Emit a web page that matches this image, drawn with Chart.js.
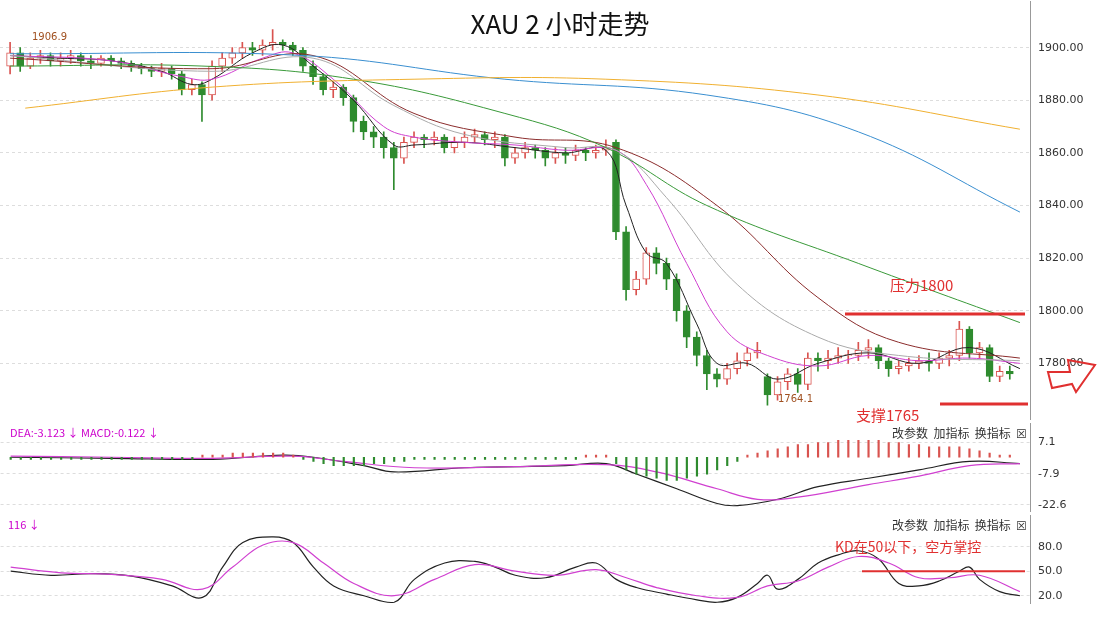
<!DOCTYPE html><html><head><meta charset="utf-8">
<script src="https://cdn.jsdelivr.net/npm/chart.js@4/dist/chart.umd.min.js"></script>
<style>body{margin:0;background:#fff;width:1102px;height:617px;overflow:hidden;position:relative;font-family:"Noto Sans CJK SC",sans-serif}
.p{position:absolute;left:0;width:1102px}
#t{position:absolute;top:4px;left:0;width:1120px;text-align:center;font:26px "Noto Sans CJK SC","DejaVu Sans Mono";color:#111}
.tb{position:absolute;font-size:12px;color:#333}
</style></head><body>
<div class="p" style="top:-13px;height:447px"><canvas id="c1"></canvas></div>
<div class="p" style="top:408.5px;height:117.5px"><canvas id="c2"></canvas></div>
<div class="p" style="top:500.5px;height:117.5px"><canvas id="c3"></canvas></div>
<div id="t">XAU 2 小时走势</div>
<div class="tb" style="left:856px;top:404px;color:#e03030;font-size:15px">支撑1765</div>
<div class="tb" style="left:10px;top:424px;color:#c0c;font-size:11px">DEA:-3.123 ↓ MACD:-0.122 ↓</div>
<div class="tb" style="left:892px;top:424px">改参数 &nbsp;加指标 &nbsp;换指标 &nbsp;☒</div>
<div class="tb" style="left:8px;top:516px;color:#c0c;font-size:11px">116 ↓</div>
<div class="tb" style="left:892px;top:516px">改参数 &nbsp;加指标 &nbsp;换指标 &nbsp;☒</div>
<script>
const closes=[1898,1893,1896,1897,1895,1896,1897,1895,1894,1896,1895,1894,1893,1892,1891,1892,1890,1884,1886,1882,1893,1896,1898,1900,1899,1901,1902,1901,1899,1893,1889,1884,1885,1881,1872,1868,1866,1862,1858,1864,1866,1865,1866,1862,1864,1866,1867,1865,1866,1858,1860,1862,1861,1858,1860,1859,1861,1860,1861,1862,1830,1808,1812,1822,1818,1812,1800,1790,1783,1776,1774,1778,1781,1784,1785,1768,1773,1776,1772,1782,1781,1782,1783,1783,1785,1786,1781,1778,1779,1780,1781,1780,1782,1783,1793,1784,1786,1775,1777,1776];
const opens=[1893,1898,1893,1896,1897,1895,1896,1897,1895,1894,1896,1895,1894,1893,1892,1891,1892,1890,1884,1886,1882,1893,1896,1898,1900,1899,1901,1902,1901,1899,1893,1889,1884,1885,1881,1872,1868,1866,1862,1858,1864,1866,1865,1866,1862,1864,1866,1867,1865,1866,1858,1860,1862,1861,1858,1860,1859,1861,1860,1861,1864,1830,1808,1812,1822,1818,1812,1800,1790,1783,1776,1774,1778,1781,1784,1775,1768,1773,1776,1772,1782,1781,1782,1783,1783,1785,1786,1781,1778,1779,1780,1781,1780,1782,1783,1793,1784,1786,1775,1777];
const highs=[1902,1900,1898,1899,1898,1898,1899,1898,1897,1897,1897,1896,1895,1894,1893,1894,1893,1891,1888,1887,1895,1898,1900,1902,1902,1903,1906.9,1903,1902,1900,1895,1890,1887,1886,1882,1874,1870,1868,1864,1866,1868,1867,1868,1867,1866,1868,1869,1868,1868,1867,1862,1864,1863,1862,1862,1862,1863,1862,1863,1865,1865,1832,1815,1824,1824,1820,1814,1802,1792,1785,1778,1780,1784,1786,1788,1776,1775,1778,1778,1784,1784,1785,1786,1785,1788,1789,1787,1782,1781,1782,1783,1784,1784,1785,1796,1794,1788,1787,1779,1779];
const lows=[1890,1891,1892,1894,1893,1893,1894,1893,1892,1893,1893,1892,1891,1890,1889,1889,1888,1882,1882,1872,1880,1891,1894,1896,1897,1897,1899,1899,1897,1891,1886,1882,1881,1878,1868,1865,1862,1858,1846,1856,1862,1862,1863,1860,1860,1862,1864,1863,1862,1855,1856,1858,1858,1855,1856,1856,1857,1857,1858,1859,1827,1804,1806,1810,1814,1808,1796,1786,1779,1770,1771,1772,1776,1779,1782,1764.1,1766,1770,1769,1770,1777,1778,1780,1780,1781,1782,1778,1775,1776,1777,1778,1777,1778,1779,1781,1782,1782,1773,1773,1774];
const k5X=[0,5,10,15,18,20,24,27,30,34,38,40,45,50,55,59,61,63,65,68,70,73,76,80,85,90,95,100];
const k5Y=[1897,1896,1895,1891,1886,1888,1898,1901,1893,1880,1863,1863,1864,1862,1860,1861,1840,1822,1818,1795,1780,1780,1774,1780,1784,1780,1786,1778];
const pinkX=[0,10,17,20,25,28,32,37,40,45,50,55,60,63,67,71,75,80,85,90,95,100];
const pinkY=[1897,1895,1889,1888,1896,1898,1888,1870,1866,1864,1863,1861,1861,1848,1818,1792,1783,1779,1783,1781,1782,1780];
const greyX=[0,20,30,38,45,55,60,65,72,80,88,100];
const greyY=[1897,1891,1896,1878,1867,1862,1861,1843,1810,1790,1783,1781];
const dredX=[0,20,30,40,50,60,70,80,88,100];
const dredY=[1896,1892,1897,1875,1866,1862,1840,1805,1788,1782];
const greenX=[0,19,34,49,59,69,84,100];
const greenY=[1893,1893,1888,1875,1862,1840,1818,1795.5];
const blueX=[0,29,49,69,84,100];
const blueY=[1897.7,1897,1888,1882,1868,1837.5];
const orangeX=[1.5,20,40,59,80,100];
const orangeY=[1877,1885,1888,1888,1882,1869];
const difX=[0,10,20,27,30,35,38,45,55,59,62,66,70,72,76,80,85,90,95,100];
const difY=[0,-0.5,-1,1,0,-4,-7,-5,-4,-3,-8,-15,-22,-23,-20,-14,-10,-6,-2,-3];
const deaX=[0,10,20,28,33,40,50,59,64,70,74,78,85,90,95,100];
const deaY=[0.5,0,-0.5,0.5,-2,-5,-4.5,-3.5,-7,-15,-20,-19,-13,-9,-4,-3];
const hist=[-1,-1,-1,-1,-1,-1,-1,-1,-1,-1,-1,-1,-1,-1,-1,-1,-1,-1,-1,1,1,1,2,2,2,2,2,2,1,-1,-2,-3,-4,-4,-4,-4,-3,-3,-2,-2,-1,-1,-1,-1,-1,-1,-1,-1,-1,-1,-1,-1,-1,-1,-1,-1,-1,1,1,1,-3,-6,-8,-9,-10,-11,-11,-10,-9,-8,-6,-4,-2,1,2,3,4,5,6,6,7,7,8,8,8,8,8,7,7,6,6,5,5,5,5,4,3,2,1,1];
const kdKX=[0,4,8,12,16,19,21,23,26,28,30,32,35,38,40,43,46,48,50,53,56,58,60,62,65,68,70,72,74,75,76,78,80,82,84,86,88,90,92,94,95,96,98,100];
const kdKY=[50,45,47,44,32,18,55,85,92,85,55,32,20,12,40,60,62,55,45,42,55,60,40,30,22,15,12,18,35,45,28,40,60,70,75,65,35,32,38,50,55,40,25,20];
const kdDX=[0,5,10,15,19,22,25,28,31,34,38,42,46,50,54,58,61,64,68,72,75,78,81,84,87,90,93,96,100];
const kdDY=[55,48,46,40,28,55,82,85,60,35,20,40,58,50,45,52,42,30,20,18,32,38,55,68,60,42,42,45,25];
const priceTicks=[1780,1800,1820,1840,1860,1880,1900];
const macdTicks=[7.1,-7.9,-22.6];
const kdTicks=[20,50,80];

const pts=(X,Y)=>X.map((x,i)=>({x,y:Y[i]}));
const line=(X,Y,c,w)=>({type:'line',data:pts(X,Y),borderColor:c,borderWidth:w||1,pointRadius:0,tension:0.4,fill:false});
const up=i=>closes[i]>=opens[i];
const idx=closes.map((_,i)=>i);
const RW=72;
function xs(){return {type:'linear',min:-1,max:101,offset:false,display:false};}
function ys(min,max,ticks,fmt){return {position:'right',min,max,afterFit:s=>{s.width=RW},afterBuildTicks:s=>{s.ticks=ticks.map(v=>({value:v}))},
 ticks:{color:'#333',font:{size:11,family:'DejaVu Sans'},padding:8,callback:fmt},
 grid:{color:'#ddd',drawTicks:false},border:{display:true,color:'#999',dash:[3,3]}}}
const base={responsive:true,maintainAspectRatio:false,animation:false,plugins:{legend:{display:false},tooltip:{enabled:false}},layout:{padding:0}};
const ann={id:'ann',afterDatasetsDraw(ch,a,o){if(!o.draw)return;o.draw(ch)}};
Chart.register(ann);
function txt(ctx,t,x,y,c,f){ctx.fillStyle=c;ctx.font=f;ctx.fillText(t,x,y)}
function hl(ctx,x1,x2,y,c,w){ctx.strokeStyle=c;ctx.lineWidth=w;ctx.beginPath();ctx.moveTo(x1,y);ctx.lineTo(x2,y);ctx.stroke()}
new Chart(document.getElementById('c1'),{data:{datasets:[
 {type:'bar',data:idx.map(i=>({x:i,y:[lows[i],highs[i]]})),backgroundColor:idx.map(i=>up(i)?'#d9534f':'#2e8b2e'),barThickness:1,grouped:false,order:5},
 {type:'bar',data:idx.map(i=>({x:i,y:[opens[i],closes[i]===opens[i]?opens[i]+0.3:closes[i]]})),backgroundColor:idx.map(i=>up(i)?'#fff':'#2e8b2e'),borderColor:idx.map(i=>up(i)?'#d9534f':'#2e8b2e'),borderWidth:1,borderSkipped:false,barThickness:7,grouped:false,order:4},
 line(orangeX,orangeY,'#f0b030'),line(blueX,blueY,'#3a8fd0'),line(greenX,greenY,'#3a9a3a'),
 line(dredX,dredY,'#8b2c2c'),line(greyX,greyY,'#aaa'),line(pinkX,pinkY,'#d040d0'),line(k5X,k5Y,'#222')
]},options:{...base,scales:{x:xs(),y:ys(1758.7,1917.5,priceTicks,v=>v.toFixed(2))},plugins:{...base.plugins,ann:{draw(ch){
 const c=ch.ctx,y=ch.scales.y;c.save();
 hl(c,845,1025,y.getPixelForValue(1798.8),'#e03030',3);hl(c,940,1028,y.getPixelForValue(1764.6),'#e03030',3);
 txt(c,'压力1800',890,304,'#e03030','15px "Noto Sans CJK SC"');
 txt(c,'1906.9',32,53,'#a05020','10px DejaVu Sans');txt(c,'1764.1',778,415,'#a05020','10px DejaVu Sans');
 c.strokeStyle='#e03030';c.lineWidth=2;c.beginPath();c.moveTo(1048,385);c.lineTo(1070,385);c.lineTo(1068,373);c.lineTo(1095,378);c.lineTo(1076,405);c.lineTo(1072,397);c.lineTo(1052,401);c.closePath();c.stroke();
 c.restore();}}}}});
new Chart(document.getElementById('c2'),{data:{datasets:[
 {type:'bar',data:idx.map(i=>({x:i,y:hist[i]})),backgroundColor:idx.map(i=>hist[i]>=0?'#d9534f':'#2e8b2e'),barThickness:1.5},
 line(deaX,deaY,'#d040d0',1.2),line(difX,difY,'#222',1.2)]},
 options:{...base,scales:{x:xs(),y:ys(-26,16,macdTicks,v=>v.toFixed(1))}}});
new Chart(document.getElementById('c3'),{data:{datasets:[line(kdDX,kdDY,'#d040d0',1.2),line(kdKX,kdKY,'#222',1.2)]},
 options:{...base,scales:{x:xs(),y:ys(10,118,kdTicks,v=>v.toFixed(1))},plugins:{...base.plugins,ann:{draw(ch){const c=ch.ctx;c.save();
 hl(c,862,1025,ch.scales.y.getPixelForValue(50),'#e03030',2);txt(c,'KD在50以下，空方掌控',835,51,'#e03030','14px "Noto Sans CJK SC"');c.restore();}}}}});
</script></body></html>
